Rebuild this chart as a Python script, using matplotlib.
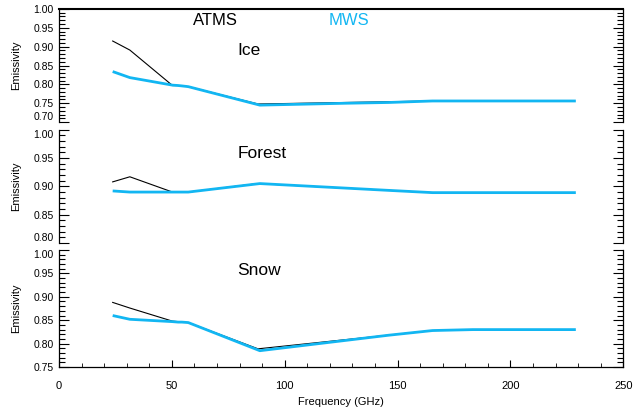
import matplotlib
matplotlib.use("Agg")
import matplotlib.pyplot as plt
from matplotlib.ticker import MultipleLocator, FormatStrFormatter

plt.rcParams['font.family'] = ['Liberation Sans', 'DejaVu Sans']

# channel frequencies (GHz)
atms_freq = [23.8, 31.4, 50.3, 52.8, 54.4, 57.29, 88.2, 165.5, 183.31]
mws_freq = [23.8, 31.4, 50.3, 52.8, 54.4, 57.29, 89.0, 127.0, 146.0, 165.5, 183.31, 229.0]

# emissivities
ice_atms = [0.915, 0.891, 0.797, 0.797, 0.796, 0.794, 0.748, 0.756, 0.756]
ice_mws = [0.834, 0.818, 0.798, 0.797, 0.796, 0.794, 0.745, 0.750, 0.752, 0.756, 0.756, 0.756]

forest_atms = [0.908, 0.917, 0.890, 0.890, 0.890, 0.890, 0.905, 0.889, 0.889]
forest_mws = [0.892, 0.890, 0.890, 0.890, 0.890, 0.890, 0.905, 0.897, 0.893, 0.889, 0.889, 0.889]

snow_atms = [0.888, 0.876, 0.848, 0.847, 0.846, 0.845, 0.789, 0.828, 0.830]
snow_mws = [0.860, 0.852, 0.847, 0.846, 0.846, 0.845, 0.785, 0.807, 0.818, 0.828, 0.830, 0.830]

panels = [
    ('Ice', ice_atms, ice_mws, (0.70, 1.00), 0.891),
    ('Forest', forest_atms, forest_mws, (0.80, 1.00), 0.959),
    ('Snow', snow_atms, snow_mws, (0.75, 1.00), 0.957),
]
# axes boxes in figure fraction [left, bottom, width, height]
boxes = [
    [0.093, 0.700, 0.890, 0.278],
    [0.093, 0.403, 0.890, 0.278],
    [0.093, 0.098, 0.890, 0.288],
]

cyan = '#12b6f2'
fig = plt.figure(figsize=(6.34, 4.07), dpi=100)

axes = []
for i, (name, a, m, ylim, ytxt) in enumerate(panels):
    ax = fig.add_axes(boxes[i])
    ax.plot(atms_freq, a, color='black', lw=0.8)
    ax.plot(mws_freq, m, color=cyan, lw=2.0, solid_capstyle='butt')
    ax.set_xlim(0, 250)
    ax.set_ylim(*ylim)
    ax.yaxis.set_major_locator(MultipleLocator(0.05))
    ax.yaxis.set_minor_locator(MultipleLocator(0.01))
    ax.yaxis.set_major_formatter(FormatStrFormatter('%.2f'))
    ax.tick_params(axis='y', which='both', direction='in', left=True, right=True,
                   labelsize=7.5, pad=4, width=0.8)
    ax.tick_params(axis='y', which='major', length=7)
    ax.tick_params(axis='y', which='minor', length=4)
    ax.set_ylabel('Emissivity', fontsize=8, labelpad=9)
    ax.text(79, ytxt, name, fontsize=12.5, va='center', ha='left')
    for s in ax.spines.values():
        s.set_linewidth(0.9)
    if i > 0:
        ax.spines['top'].set_visible(False)
    if i < 2:
        ax.spines['bottom'].set_visible(False)
        ax.tick_params(axis='x', which='both', bottom=False, labelbottom=False)
    axes.append(ax)

ax1, ax2, ax3 = axes
ax1.spines['top'].set_linewidth(1.5)
ax1.text(59.5, 0.970, 'ATMS', fontsize=12, va='center', ha='left', color='black')
ax1.text(119.5, 0.970, 'MWS', fontsize=12, va='center', ha='left', color=cyan)

ax3.xaxis.set_major_locator(MultipleLocator(50))
ax3.xaxis.set_minor_locator(MultipleLocator(10))
ax3.tick_params(axis='x', which='both', direction='in', top=False, labelsize=8, pad=10)
ax3.tick_params(axis='x', which='major', length=5)
ax3.tick_params(axis='x', which='minor', length=3)
ax3.set_xlabel('Frequency (GHz)', fontsize=8, labelpad=4)

# keep the labels at the panel joins apart, as in the original
fig.canvas.draw()
for i, ax in enumerate(axes):
    lo, hi = ax.get_ylim()
    for tick in ax.yaxis.get_major_ticks():
        v = tick.get_loc()
        if i > 0 and abs(v - hi) < 1e-6:
            tick.label1.set_va('top')
        if i < 2 and abs(v - lo) < 1e-6:
            tick.label1.set_va('bottom')

fig.savefig("out.png", dpi=100)
